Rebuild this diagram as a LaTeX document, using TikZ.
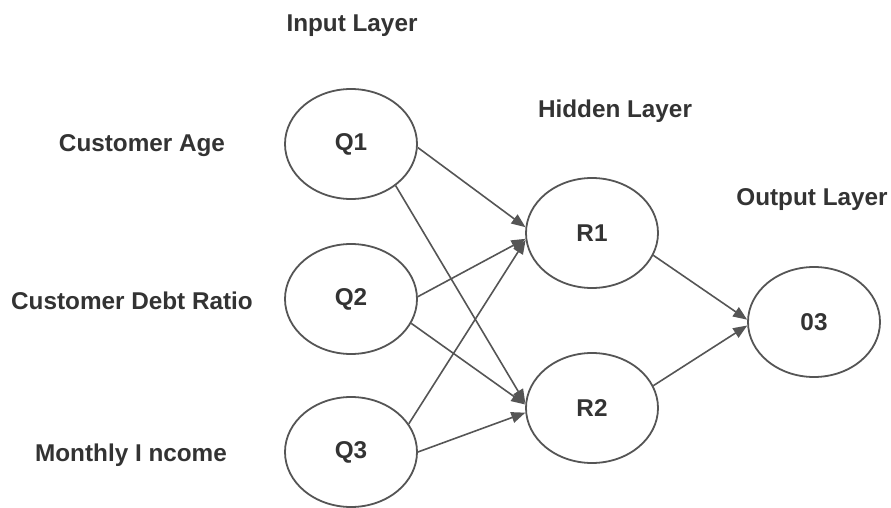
\documentclass[tikz,border=0pt]{standalone}
\usepackage{fontspec}
\setmainfont{Liberation Sans}
\usetikzlibrary{arrows.meta,shapes.geometric}
\definecolor{txt}{HTML}{333333}
\definecolor{ln}{HTML}{555555}
\tikzset{
  neuron/.style={ellipse, draw=ln, line width=1.8pt, minimum width=132pt, minimum height=110pt, inner sep=0pt, font=\fontsize{24.3}{28}\selectfont\bfseries, text=txt},
  lbl/.style={font=\fontsize{24.3}{28}\selectfont\bfseries, text=txt, inner sep=0pt},
  conn/.style={draw=ln, line width=1.6pt, -{Triangle[length=14pt,width=11pt]}}
}
\begin{document}
\begin{tikzpicture}[x=1pt,y=-1pt]
\useasboundingbox (0,0) rectangle (891,508);
\node[lbl] (tin) at (352,26) {Input Layer};
\node[lbl] (thid) at (615,111) {Hidden Layer};
\node[lbl] (tout) at (812,200) {Output Layer};
\node[lbl] (l1) at (142,146) {Customer Age};
\node[lbl] (l2) at (132,301) {Customer Debt Ratio};
\node[lbl] (l3) at (131,455) {Monthly I ncome};
\node[neuron] (Q1) at (351,144) {Q1};
\node[neuron] (Q2) at (351,299) {Q2};
\node[neuron] (Q3) at (351,452) {Q3};
\node[neuron] (R1) at (592,233) {R1};
\node[neuron] (R2) at (592,408) {R2};
\node[neuron] (O3) at (814,322) {03};
\draw[conn] (Q1.-3) -- (R1.175);
\draw[conn] (Q1.-43) -- (R2.176);
\draw[conn] (Q2.2) -- (R1.185);
\draw[conn] (Q2.-22) -- (R2.177);
\draw[conn] (Q3.26) -- (R1.186);
\draw[conn] (Q3.0) -- (R2.184);
\draw[conn] (R1.-20) -- (O3.178);
\draw[conn] (R2.20) -- (O3.183);
\end{tikzpicture}
\end{document}
